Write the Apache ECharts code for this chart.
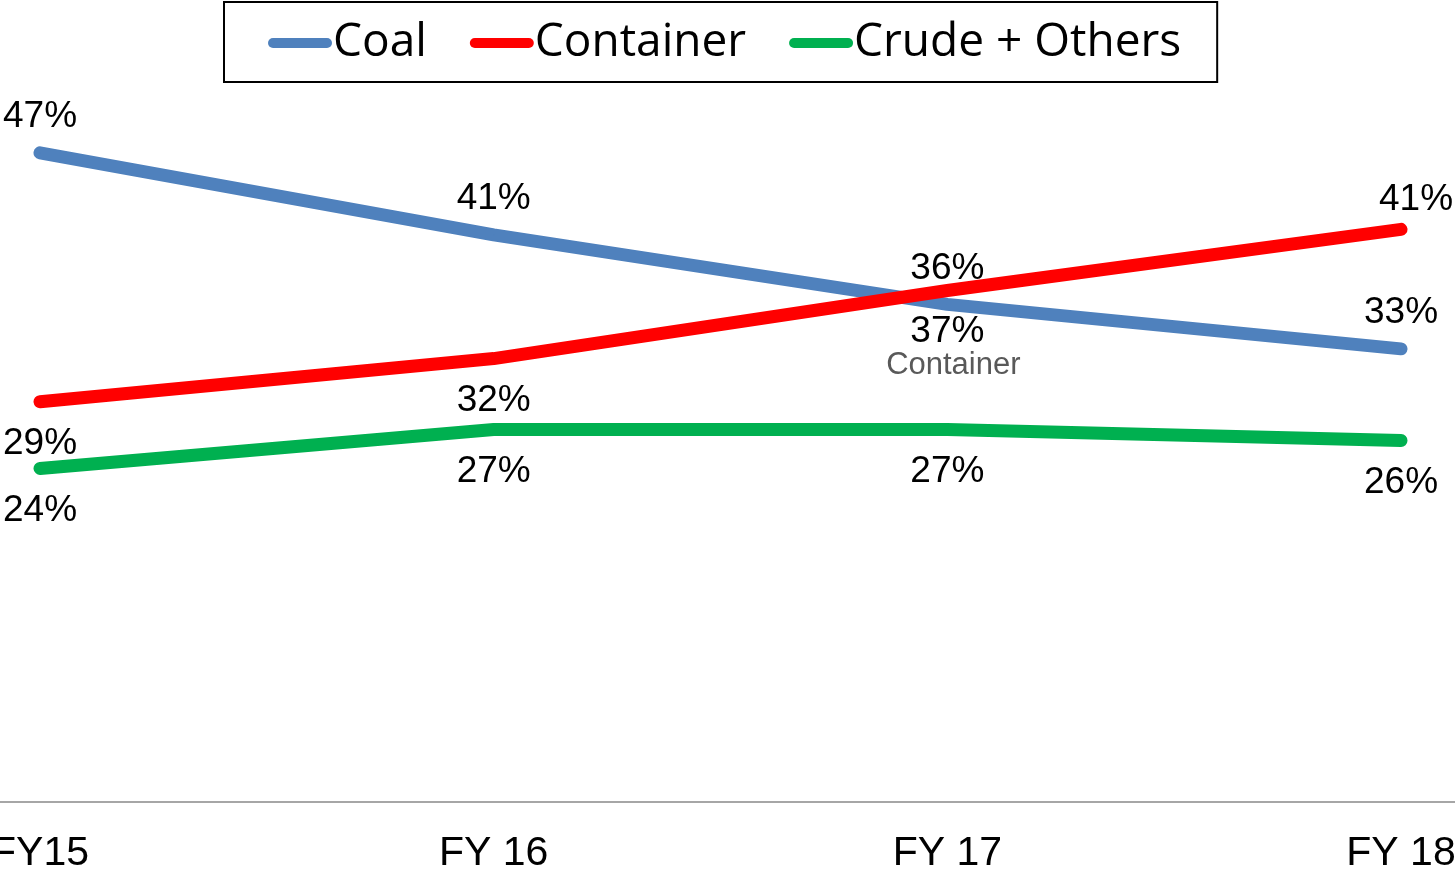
<!DOCTYPE html>
<html>
<head>
<meta charset="utf-8">
<script src="https://cdn.jsdelivr.net/npm/echarts@6/dist/echarts.min.js"></script>
<style>html,body{margin:0;padding:0;background:#fff;}#c{width:1455px;height:872px;}</style>
</head>
<body>
<div id="c"></div>
<script>
const categories = ['FY15', 'FY 16', 'FY 17', 'FY 18'];
const coal = [46.7, 40.8, 35.8, 32.6];
const container = [28.8, 31.9, 36.8, 41.2];
const crude = [24.0, 26.8, 26.8, 26.0];
const seriesNames = ['Coal', 'Container', 'Crude + Others'];

const chart = echarts.init(document.getElementById('c'));
const labelFont = { fontFamily: 'Liberation Sans, Arial, sans-serif', fontSize: 37, color: '#000' };
const pct = v => Math.round(v) + '%';
const capsule = 'path://M5,0 H59 A5,5 0 0 1 59,10 H5 A5,5 0 0 1 5,0 Z';

function mkSeries(name, data, color, positions) {
  return {
    name, type: 'line', data: data.map((v, i) => {
      const p = positions[i];
      const item = { value: v, label: { position: p.pos, distance: p.pos === 'top' ? 17 : 23 } };
      if (p.offset) item.label.offset = p.offset;
      if (p.rich) {
        item.label.formatter = function (prm) { return '{v|' + pct(prm.value) + '}\n{n|' + name + '}'; };
        item.label.rich = {
          v: { fontFamily: labelFont.fontFamily, fontSize: 37, color: '#000', lineHeight: 36 },
          n: { fontFamily: labelFont.fontFamily, fontSize: 31, color: '#595959', lineHeight: 30, padding: [0, 0, 0, 12] }
        };
      }
      return item;
    }),
    symbol: 'circle', symbolSize: 1, showSymbol: true,
    itemStyle: { color },
    lineStyle: { color, width: 13, cap: 'round', join: 'round' },
    label: { show: true, formatter: p => pct(p.value), ...labelFont },
    emphasis: { disabled: true },
    silent: true, animation: false
  };
}

chart.setOption({
  backgroundColor: '#fff',
  animation: false,
  legend: {
    data: seriesNames,
    left: 224, top: 2,
    padding: [18, 36, 16, 44],
    itemGap: 43,
    itemWidth: 64, itemHeight: 12,
    icon: capsule,
    borderColor: '#000', borderWidth: 2,
    textStyle: { fontFamily: 'Open Sans, sans-serif', fontSize: 46, color: '#000', padding: [0, 0, 0, -4] }
  },
  grid: { left: 40, right: 54, top: 107, bottom: 70, containLabel: false, outerBoundsMode: 'none' },
  xAxis: {
    type: 'category', data: categories, boundaryGap: false,
    axisLine: { show: false }, axisTick: { show: false },
    axisLabel: { fontFamily: 'Liberation Sans, Arial, sans-serif', fontSize: 41, color: '#000', margin: 31, showMinLabel: true, showMaxLabel: true }
  },
  yAxis: { type: 'value', min: 0, max: 50, show: false, splitLine: { show: false } },
  graphic: [{ type: 'line', shape: { x1: 0, y1: 802, x2: 1455, y2: 802 }, style: { stroke: '#a6a6a6', lineWidth: 2 }, silent: true }],
  series: [
    mkSeries('Coal', coal, '#4F81BD', [{ pos: 'top' }, { pos: 'top' }, { pos: 'top' }, { pos: 'top' }]),
    mkSeries('Container', container, '#FF0000', [{ pos: 'bottom' }, { pos: 'bottom' }, { pos: 'bottom', rich: true }, { pos: 'top', offset: [15, 6] }]),
    mkSeries('Crude + Others', crude, '#00B050', [{ pos: 'bottom' }, { pos: 'bottom' }, { pos: 'bottom' }, { pos: 'bottom' }])
  ]
});
</script>
</body>
</html>
